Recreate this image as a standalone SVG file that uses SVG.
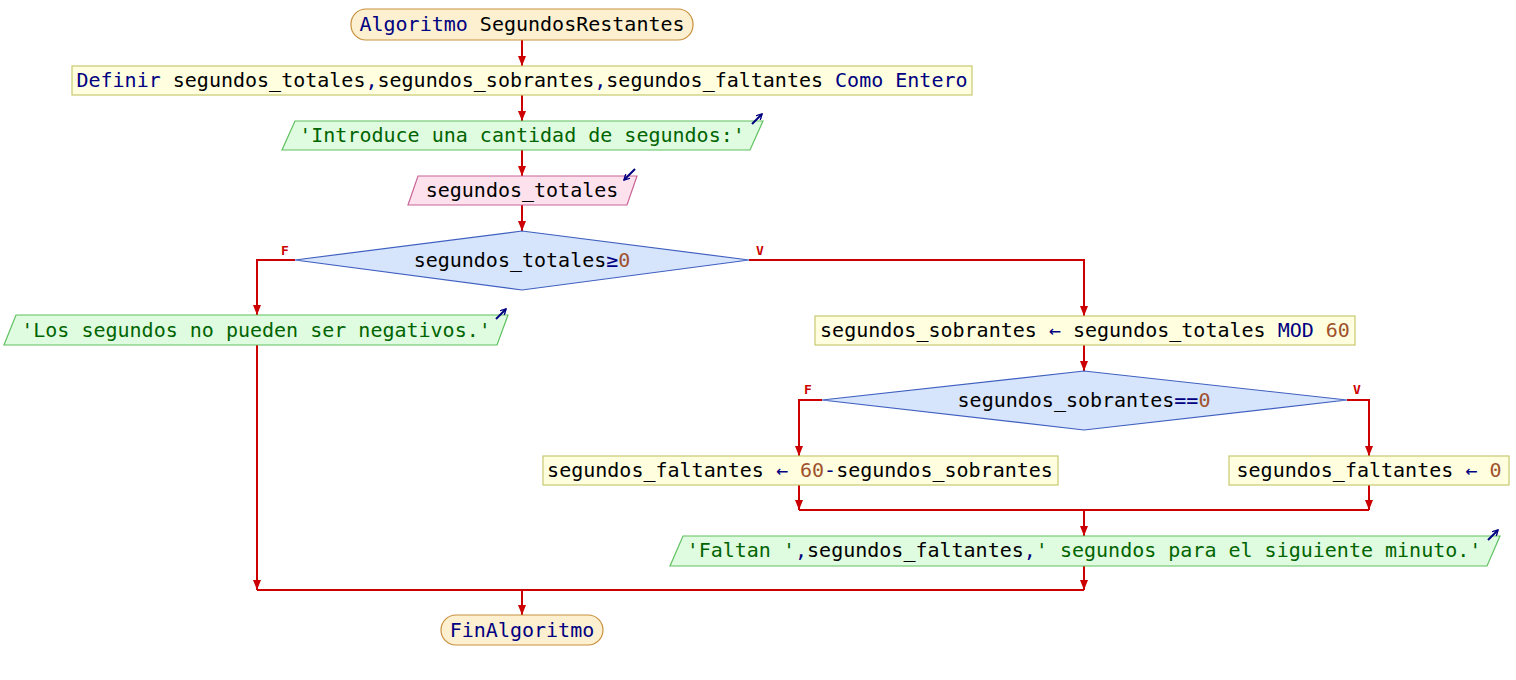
<svg xmlns="http://www.w3.org/2000/svg" width="1516" height="680" viewBox="0 0 1516 680">
<style>
text{font-family:"DejaVu Sans Mono","Liberation Mono",monospace;font-size:20px;text-anchor:middle;fill:#000}
.kw{fill:#000080}
.str{fill:#006400}
.num{fill:#a0522d}
.term{fill:#fdf0d0;stroke:#c8903c;stroke-width:1.2}
.proc{fill:#ffffe0;stroke:#c8c870;stroke-width:1.2}
.out{fill:#e0fce0;stroke:#60c060;stroke-width:1.2}
.in{fill:#fde2ee;stroke:#c86496;stroke-width:1.2}
.dec{fill:#d6e4fc;stroke:#4060c0;stroke-width:1.2}
.ic{stroke:#000080;stroke-width:2;fill:none;marker-end:url(#ih)}
.lbl{font-size:13px;font-weight:bold;fill:#cc0000}
#conn path{fill:none;stroke:#cc0000;stroke-width:2}
#conn .a{marker-end:url(#ah)}
</style>
<defs>
<marker id="ah" viewBox="0 0 10 8" refX="10" refY="4" markerWidth="10" markerHeight="8" markerUnits="userSpaceOnUse" orient="auto"><path d="M0,0L10,4L0,8z" fill="#cc0000"/></marker>
<marker id="ih" viewBox="0 0 8 8" refX="7" refY="4" markerWidth="7" markerHeight="7" markerUnits="userSpaceOnUse" orient="auto"><path d="M0,0L7,4L0,8" fill="none" stroke="#000080" stroke-width="1.6"/></marker>
</defs>
<g id="conn">
<path class="a" d="M522,40V66"/>
<path class="a" d="M522,95V121"/>
<path class="a" d="M522,150V176"/>
<path class="a" d="M522,205V231"/>
<path class="a" d="M295,260H257V315"/>
<path class="a" d="M749,260H1084V316"/>
<path class="a" d="M257,345V590"/>
<path class="a" d="M1084,345V371"/>
<path class="a" d="M822,400H799V456"/>
<path class="a" d="M1347,400H1369V456"/>
<path class="a" d="M799,485V510"/>
<path class="a" d="M1369,485V510"/>
<path d="M799,510H1369"/>
<path class="a" d="M1084,510V536"/>
<path class="a" d="M1084,566V590"/>
<path d="M257,590H1084"/>
<path class="a" d="M522,590V615"/>
<text class="lbl" x="285" y="255">F</text>
<text class="lbl" x="760" y="255">V</text>
<text class="lbl" x="808" y="394">F</text>
<text class="lbl" x="1357" y="394">V</text>
</g>
<g id="start">
<rect class="term" x="351" y="9" width="342" height="31" rx="15"/>
<text x="522" y="31"><tspan class="kw">Algoritmo</tspan> SegundosRestantes</text>
</g>
<g id="define">
<rect class="proc" x="72" y="66" width="900" height="29"/>
<text x="522" y="87"><tspan class="kw">Definir</tspan> segundos_totales<tspan class="kw">,</tspan>segundos_sobrantes<tspan class="kw">,</tspan>segundos_faltantes <tspan class="kw">Como Entero</tspan></text>
</g>
<g id="out1">
<polygon class="out" points="295,121 763,121 750,150 282,150"/>
<text class="str" x="522" y="142">'Introduce una cantidad de segundos:'</text>
<path class="ic" d="M752,124L762,114"/>
</g>
<g id="in1">
<polygon class="in" points="418,176 637,176 627,205 408,205"/>
<text x="522" y="197">segundos_totales</text>
<path class="ic" d="M635,169L624,180"/>
</g>
<g id="dec1">
<polygon class="dec" points="522,231 749,260 522,290 295,260"/>
<text x="522" y="267">segundos_totales<tspan class="kw">≥</tspan><tspan class="num">0</tspan></text>
</g>
<g id="out2">
<polygon class="out" points="16,315 508,315 497,345 4,345"/>
<text class="str" x="256" y="337">'Los segundos no pueden ser negativos.'</text>
<path class="ic" d="M496,319L506,309"/>
</g>
<g id="assign1">
<rect class="proc" x="815" y="316" width="540" height="29"/>
<text x="1085" y="337">segundos_sobrantes <tspan class="kw">←</tspan> segundos_totales <tspan class="kw">MOD</tspan> <tspan class="num">60</tspan></text>
</g>
<g id="dec2">
<polygon class="dec" points="1084,371 1347,400 1084,430 822,400"/>
<text x="1084" y="407">segundos_sobrantes<tspan class="kw">==</tspan><tspan class="num">0</tspan></text>
</g>
<g id="assign2">
<rect class="proc" x="543" y="456" width="515" height="29"/>
<text x="800" y="477">segundos_faltantes <tspan class="kw">←</tspan> <tspan class="num">60</tspan><tspan class="kw">-</tspan>segundos_sobrantes</text>
</g>
<g id="assign3">
<rect class="proc" x="1229" y="456" width="280" height="29"/>
<text x="1369" y="477">segundos_faltantes <tspan class="kw">←</tspan> <tspan class="num">0</tspan></text>
</g>
<g id="out3">
<polygon class="out" points="683,536 1500,536 1487,566 670,566"/>
<text x="1084" y="557"><tspan class="str">'Faltan '</tspan><tspan class="kw">,</tspan>segundos_faltantes<tspan class="kw">,</tspan><tspan class="str">' segundos para el siguiente minuto.'</tspan></text>
<path class="ic" d="M1488,540L1498,530"/>
</g>
<g id="end">
<rect class="term" x="441" y="615" width="162" height="30" rx="15"/>
<text class="kw" x="522" y="637">FinAlgoritmo</text>
</g>
</svg>
